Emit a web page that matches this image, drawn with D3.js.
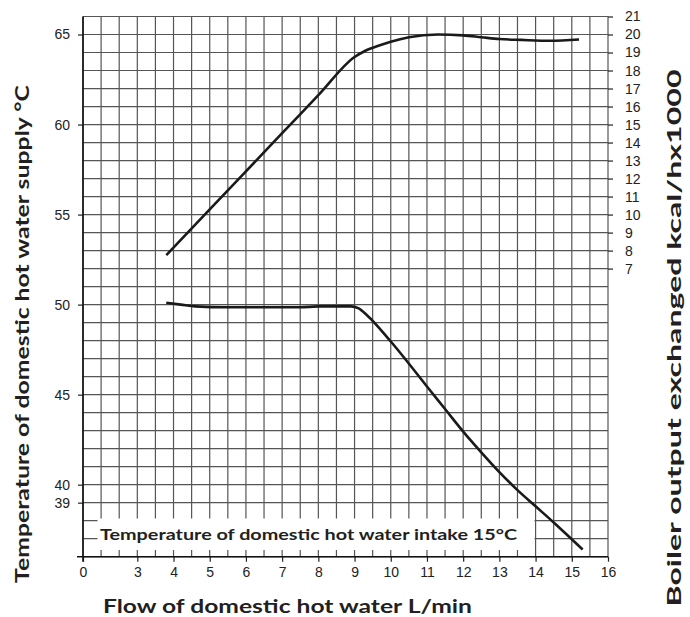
<!DOCTYPE html>
<html>
<head>
<meta charset="utf-8">
<script src="https://cdn.jsdelivr.net/npm/d3@7"></script>
<style>
  body { margin: 0; background: #fff; }
  text { font-family: "Liberation Sans", Arial, sans-serif; }
  .title { font-family: Lato, "Open Sans", sans-serif; font-weight: bold; }
</style>
</head>
<body>
<script>
// flow of domestic hot water, L/min
var outputFlow = [3.8, 5.0, 6.0, 7.0, 8.0, 9.0, 9.3, 9.7, 10.0, 10.5, 11.3, 12.0, 12.5, 13.0, 13.6, 14.4, 15.2];
// boiler output exchanged, kcal/h x1000
var outputKcal = [7.75, 10.29, 12.4, 14.52, 16.63, 18.75, 19.1, 19.4, 19.6, 19.85, 20.0, 19.95, 19.85, 19.75, 19.7, 19.65, 19.72];

var tempFlow = [3.8, 4.2, 4.6, 5.5, 6.5, 7.5, 8.0, 8.9, 9.1, 9.35, 10.0, 11.1, 11.5, 12.0, 12.5, 13.0, 13.5, 14.0, 14.5, 15.3];
// domestic hot water supply temperature, °C
var tempSupply = [50.1, 50.0, 49.9, 49.85, 49.85, 49.85, 49.9, 49.9, 49.8, 49.4, 47.95, 45.2, 44.2, 42.95, 41.8, 40.7, 39.7, 38.8, 37.9, 36.4];

var xTicks = [3, 4, 5, 6, 7, 8, 9, 10, 11, 12, 13, 14, 15, 16];
var yLeftTicks = [65, 60, 55, 50, 45, 40, 39];
var yRightTicks = [7, 8, 9, 10, 11, 12, 13, 14, 15, 16, 17, 18, 19, 20, 21];

var CHART = {
  init: function() {
    var w = 690;
    var h = 617;
    var left = 83, right = 608, top = 16.5, bottom = 556.7;

    var svg = d3.select("body")
      .append("svg")
      .attr("width", w)
      .attr("height", h);

    // axis starts with a break: "0" sits where 1.5 would be
    var x = d3.scaleLinear().domain([1.5, 16]).range([left, right]);
    var y = d3.scaleLinear().domain([36, 66]).range([bottom, top]);
    var y2 = d3.scaleLinear().domain([-9, 21]).range([bottom, top]);

    this.drawGrid(svg, x, y);

    // white box behind the intake note
    svg.append("rect")
      .attr("x", 97.5)
      .attr("y", 518.5)
      .attr("width", 437)
      .attr("height", 31.5)
      .attr("fill", "white");

    svg.append("text")
      .attr("class", "title")
      .attr("x", 100)
      .attr("y", 540)
      .attr("font-size", "16px")
      .attr("textLength", 417)
      .attr("lengthAdjust", "spacingAndGlyphs")
      .attr("fill", "#231f20")
      .text("Temperature of domestic hot water intake 15°C");

    this.drawAxes(svg, x, y, y2, left, right, top, bottom);
    this.drawLines(svg, x, y, y2);
    this.drawTitles(svg);
  },

  drawGrid: function(svg, x, y) {
    var xs = d3.range(1.5, 16.01, 0.5);
    var ys = d3.range(36, 66.01, 1);

    svg.append("g")
      .selectAll("line")
      .data(xs)
      .enter()
      .append("line")
      .attr("x1", function(d) { return x(d); })
      .attr("x2", function(d) { return x(d); })
      .attr("y1", y(66))
      .attr("y2", y(36))
      .attr("stroke", "#555")
      .attr("stroke-width", 1.2);

    svg.append("g")
      .selectAll("line")
      .data(ys)
      .enter()
      .append("line")
      .attr("x1", x(1.5))
      .attr("x2", x(16))
      .attr("y1", function(d) { return y(d); })
      .attr("y2", function(d) { return y(d); })
      .attr("stroke", "#555")
      .attr("stroke-width", 1.2);
  },

  drawAxes: function(svg, x, y, y2, left, right, top, bottom) {
    var xAxis = d3.axisBottom(x)
      .tickValues([1.5].concat(xTicks))
      .tickFormat(function(d) { return d === 1.5 ? "0" : d; })
      .tickSize(5)
      .tickPadding(5);

    var gx = svg.append("g")
      .attr("transform", "translate(0," + bottom + ")")
      .call(xAxis);
    gx.select(".domain").remove();
    gx.selectAll("line").attr("stroke", "#222").attr("stroke-width", 1.2);
    gx.selectAll("text").attr("font-size", "14px").attr("fill", "#222");

    var yAxis = d3.axisLeft(y)
      .tickValues(yLeftTicks)
      .tickSize(5)
      .tickPadding(8);

    var gy = svg.append("g")
      .attr("transform", "translate(" + left + ",0)")
      .call(yAxis);
    gy.select(".domain").remove();
    gy.selectAll("line").attr("stroke", "#222").attr("stroke-width", 1.2);
    gy.selectAll("text").attr("font-size", "14px").attr("fill", "#222");

    var yAxis2 = d3.axisRight(y2)
      .tickValues(yRightTicks)
      .tickSize(5)
      .tickPadding(12);

    var gy2 = svg.append("g")
      .attr("transform", "translate(" + right + ",0)")
      .call(yAxis2);
    gy2.select(".domain").remove();
    gy2.selectAll("line").attr("stroke", "#222").attr("stroke-width", 1.2);
    gy2.selectAll("text").attr("font-size", "14px").attr("fill", "#222");

    // main axis lines
    svg.append("line")
      .attr("x1", left).attr("x2", left)
      .attr("y1", top).attr("y2", bottom + 5)
      .attr("stroke", "#111").attr("stroke-width", 1.6);
    svg.append("line")
      .attr("x1", left - 6).attr("x2", right)
      .attr("y1", bottom).attr("y2", bottom)
      .attr("stroke", "#111").attr("stroke-width", 1.6);
  },

  drawLines: function(svg, x, y, y2) {
    var output = outputFlow.map(function(d, i) { return [d, outputKcal[i]]; });
    var temp = tempFlow.map(function(d, i) { return [d, tempSupply[i]]; });

    var lineOut = d3.line()
      .x(function(d) { return x(d[0]); })
      .y(function(d) { return y2(d[1]); })
      .curve(d3.curveMonotoneX);

    var lineTemp = d3.line()
      .x(function(d) { return x(d[0]); })
      .y(function(d) { return y(d[1]); })
      .curve(d3.curveMonotoneX);

    svg.append("path")
      .attr("d", lineOut(output))
      .attr("fill", "none")
      .attr("stroke", "#1a1a1a")
      .attr("stroke-width", 2.6);

    svg.append("path")
      .attr("d", lineTemp(temp))
      .attr("fill", "none")
      .attr("stroke", "#1a1a1a")
      .attr("stroke-width", 2.6);
  },

  drawTitles: function(svg) {
    svg.append("text")
      .attr("class", "title")
      .attr("x", 287.5)
      .attr("y", 613)
      .attr("text-anchor", "middle")
      .attr("font-size", "19px")
      .attr("textLength", 369)
      .attr("lengthAdjust", "spacingAndGlyphs")
      .attr("fill", "#231f20")
      .text("Flow of domestic hot water L/min");

    svg.append("text")
      .attr("class", "title")
      .attr("transform", "translate(29,334) rotate(-90)")
      .attr("text-anchor", "middle")
      .attr("font-size", "19px")
      .attr("textLength", 498)
      .attr("lengthAdjust", "spacingAndGlyphs")
      .attr("fill", "#231f20")
      .text("Temperature of domestic hot water supply °C");

    svg.append("text")
      .attr("class", "title")
      .attr("transform", "translate(681,338) rotate(-90)")
      .attr("text-anchor", "middle")
      .attr("font-size", "19px")
      .attr("textLength", 537)
      .attr("lengthAdjust", "spacingAndGlyphs")
      .attr("fill", "#231f20")
      .text("Boiler output exchanged kcal/hx1000");
  }
};

CHART.init();
</script>
</body>
</html>
